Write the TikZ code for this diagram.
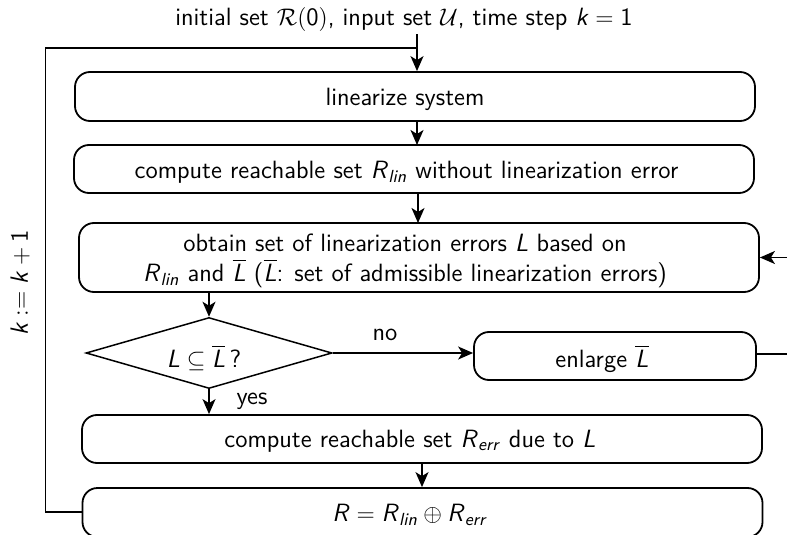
\documentclass[tikz,border=0pt]{standalone}
\usepackage{amsmath}
\usetikzlibrary{arrows.meta,shapes.geometric}
\newcommand{\mi}[1]{\textsf{\textit{#1}}}
\newcommand{\dg}[1]{\textsf{#1}}
\newcommand{\Lb}{\overline{\mi{L}}}
\begin{document}
\begin{tikzpicture}[x=0.5pt,y=-0.5pt,
  every node/.style={font=\sffamily\fontsize{12.5}{15}\selectfont},
  box/.style={draw,rounded corners=7.5pt,line width=0.9pt,inner sep=0pt},
  txt/.style={inner sep=0pt,align=center},
  arr/.style={line width=0.8pt,-{Stealth[length=7.5pt,width=6.5pt,inset=2pt]}},
  ln/.style={line width=0.8pt}]
\useasboundingbox (0,0) rectangle (787,535);
\node[txt] (init) at (404,20) {initial set $\mathcal{R}(\dg{0})$, input set $\mathcal{U}$, time step $\mi{k}=\dg{1}$};
\node[box,minimum width=340pt,minimum height=24.5pt] (b1) at (415,96.5) {};
\node[txt] (t1) at (405,99) {linearize system};
\node[box,minimum width=340pt,minimum height=24pt] (b2) at (414,169) {};
\node[txt] (t2) at (406.5,172) {compute reachable set $\mi{R}_{\mi{lin}}$ without linearization error};
\node[box,minimum width=340pt,minimum height=34.5pt] (b3) at (419,257.5) {};
\node[txt] (t3) at (405,261) {obtain set of linearization errors $\mi{L}$ based on\\$\mi{R}_{\mi{lin}}$ and $\Lb$ ($\Lb$: set of admissible linearization errors)};
\node[draw,diamond,line width=0.75pt,inner sep=0pt,aspect=3.4,minimum width=123pt,minimum height=35.5pt] (dia) at (209,353) {};
\node[txt] (td) at (204,358) {$\mi{L}\subseteq\Lb$\,?};
\node[box,minimum width=141pt,minimum height=24pt] (enl) at (615,356) {};
\node[txt] (te) at (602,359) {enlarge $\Lb$};
\node[box,minimum width=340pt,minimum height=24pt] (b4) at (422,439) {};
\node[txt] (t4) at (410,441) {compute reachable set $\mi{R}_{\mi{err}}$ due to $\mi{L}$};
\node[box,minimum width=340pt,minimum height=24.5pt] (b5) at (422.5,512.5) {};
\node[txt] (t5) at (410,515) {$\mi{R}=\mi{R}_{\mi{lin}}\oplus\mi{R}_{\mi{err}}$};
\node[txt] (no) at (385,335) {no};
\node[txt] (yes) at (252,401) {yes};
\node[txt,rotate=90] (kk) at (20,283) {$\mi{k}:=\mi{k}+\dg{1}$};
\coordinate (join) at (417,48);
\coordinate (lc) at (45.5,48);
\coordinate (rc) at (810,354);
\draw[arr] (join |- init.south) ++(0,2) -- (join |- b1.north);
\draw[ln] (b5.west |- 0,512) -| (lc) -- (join);
\draw[arr] (417,121) -- (417,145);
\draw[arr] (b2.south -| 418,0) -- (418,223);
\draw[arr] (dia.north |- b3.south) -- (dia.north);
\draw[arr] (dia.east) -- (dia.east -| enl.west);
\draw[arr] (enl.east |- rc) -- (rc) |- (b3.east);
\draw[arr] (dia.south) -- (dia.south |- b4.north);
\draw[arr] (b4.south) -- (b4.south |- b5.north);
\end{tikzpicture}
\end{document}
